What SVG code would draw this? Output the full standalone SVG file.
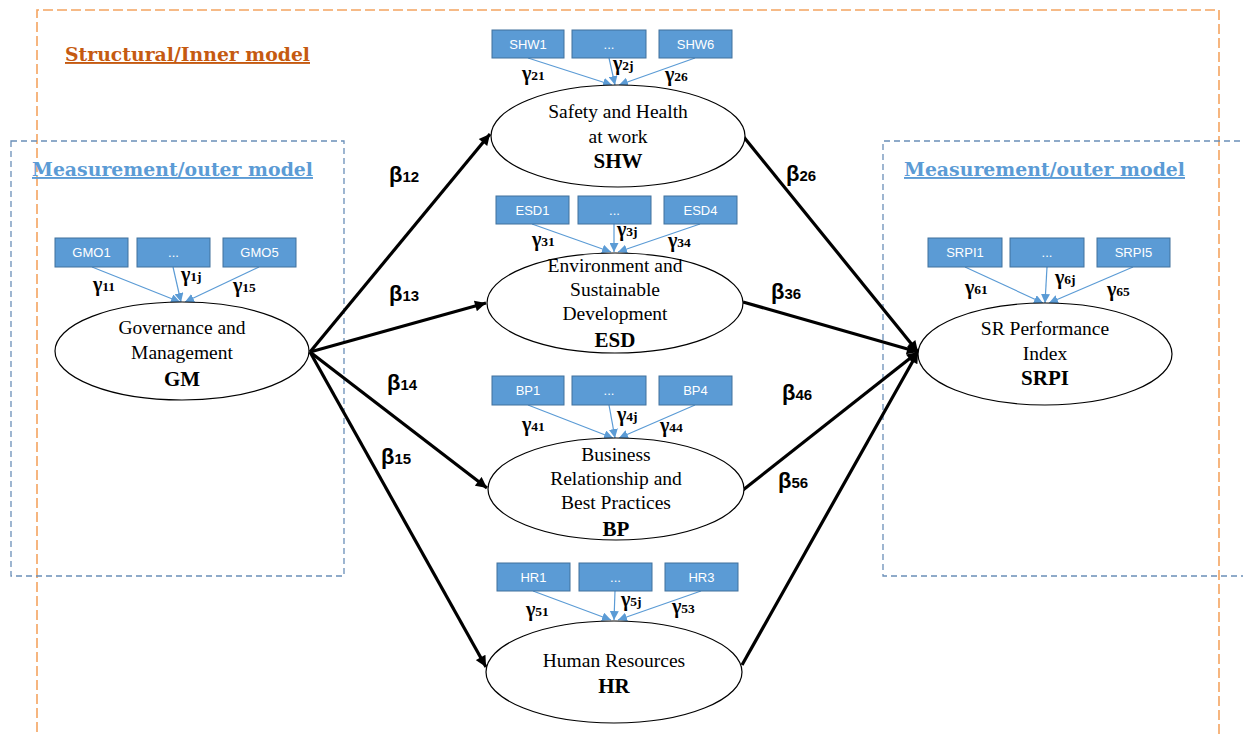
<svg xmlns="http://www.w3.org/2000/svg" width="1243" height="734" viewBox="0 0 1243 734">
<defs>
<style>
.ell{fill:#fff;stroke:#000;stroke-width:1.2}
.box{fill:#5B9BD5;stroke:#41719C;stroke-width:1}
.bt{font-family:"Liberation Sans",Arial,sans-serif;font-size:13px;fill:#fff;text-anchor:middle}
.et{font-family:"Liberation Serif","Times New Roman",serif;font-size:19.5px;fill:#000;text-anchor:middle}
.eb{font-family:"Liberation Serif","Times New Roman",serif;font-size:21px;font-weight:bold;fill:#000;text-anchor:middle}
.g{font-family:"Liberation Serif","Times New Roman",serif;font-size:20px;font-weight:bold;fill:#000}
.gs{font-size:13.5px}
.b{font-family:"Liberation Sans",Arial,sans-serif;font-size:22px;font-weight:bold;fill:#000}
.bs{font-size:15px}
.ind{stroke:#5B9BD5;stroke-width:1.2;marker-end:url(#ab)}
.path{stroke:#000;stroke-width:3.2;marker-end:url(#ak)}
.hdr{font-family:"DejaVu Serif","Liberation Serif",serif;font-weight:bold;font-size:19px;text-decoration:underline}
</style>
<marker id="ab" viewBox="0 0 10 10" refX="10" refY="5" markerWidth="9" markerHeight="9" markerUnits="userSpaceOnUse" orient="auto"><path d="M0,0 L10,5 L0,10 z" fill="#5B9BD5"/></marker>
<marker id="ak" viewBox="0 0 10 10" refX="10" refY="5" markerWidth="13" markerHeight="11" markerUnits="userSpaceOnUse" orient="auto"><path d="M0,0 L10,5 L0,10 z" fill="#000"/></marker>
</defs>
<rect width="1243" height="734" fill="#fff"/>

<g id="frames" fill="none">
<path d="M37,760 L37,10 L1219,10 L1219,760" stroke="#F4A460" stroke-width="1.6" stroke-dasharray="10,4"/>
<rect x="11" y="141" width="333" height="435" stroke="#6A8FB8" stroke-width="1.3" stroke-dasharray="6,4"/>
<path d="M1250,141 L883,141 L883,576 L1250,576" stroke="#6A8FB8" stroke-width="1.3" stroke-dasharray="6,4"/>
</g>
<text class="hdr" x="65" y="61" fill="#C55A11" textLength="245" lengthAdjust="spacingAndGlyphs">Structural/Inner model</text>
<text class="hdr" x="32" y="176" fill="#5B9BD5" textLength="281" lengthAdjust="spacingAndGlyphs">Measurement/outer model</text>
<text class="hdr" x="904" y="176" fill="#5B9BD5" textLength="281" lengthAdjust="spacingAndGlyphs">Measurement/outer model</text>

<g id="connectors">
<line class="path" x1="310" y1="352" x2="490" y2="134"/>
<line class="path" x1="310" y1="352" x2="486" y2="303"/>
<line class="path" x1="310" y1="352" x2="487" y2="488"/>
<line class="path" x1="310" y1="352" x2="486" y2="667"/>
<line class="path" x1="743" y1="136" x2="918" y2="352"/>
<line class="path" x1="743" y1="302" x2="918" y2="352"/>
<line class="path" x1="743" y1="490" x2="918" y2="352"/>
<line class="path" x1="742" y1="665" x2="918" y2="352"/>
<line class="ind" x1="92" y1="267" x2="180" y2="302"/>
<line class="ind" x1="173" y1="267" x2="181" y2="302"/>
<line class="ind" x1="259" y1="267" x2="185" y2="302"/>
<line class="ind" x1="528" y1="58" x2="612" y2="85"/>
<line class="ind" x1="609" y1="58" x2="615" y2="85"/>
<line class="ind" x1="695" y1="58" x2="619" y2="85"/>
<line class="ind" x1="532" y1="224" x2="611" y2="252"/>
<line class="ind" x1="614" y1="224" x2="614" y2="252"/>
<line class="ind" x1="700" y1="224" x2="618" y2="252"/>
<line class="ind" x1="528" y1="405" x2="613" y2="438"/>
<line class="ind" x1="609" y1="405" x2="615" y2="438"/>
<line class="ind" x1="695" y1="405" x2="619" y2="438"/>
<line class="ind" x1="533" y1="591" x2="611" y2="620"/>
<line class="ind" x1="615" y1="591" x2="614" y2="620"/>
<line class="ind" x1="701" y1="591" x2="618" y2="620"/>
<line class="ind" x1="965" y1="267" x2="1043" y2="303"/>
<line class="ind" x1="1047" y1="267" x2="1045" y2="303"/>
<line class="ind" x1="1133" y1="267" x2="1049" y2="303"/>
</g>

<g id="node-GM">
<rect class="box" x="55" y="238" width="73" height="29"/><text class="bt" x="91.5" y="257">GMO1</text>
<rect class="box" x="137" y="238" width="73" height="29"/><text class="bt" x="173.5" y="257">...</text>
<rect class="box" x="223" y="238" width="73" height="29"/><text class="bt" x="259.5" y="257">GMO5</text>
<ellipse class="ell" cx="182" cy="351" rx="127" ry="49"/>
<text class="et" x="182" y="334">Governance and</text>
<text class="et" x="182" y="359">Management</text>
<text class="eb" x="182" y="386">GM</text>
<text class="g" x="93" y="291">γ<tspan class="gs">11</tspan></text>
<text class="g" x="181" y="281">γ<tspan class="gs">1j</tspan></text>
<text class="g" x="233" y="292">γ<tspan class="gs">15</tspan></text>
</g>

<g id="node-SHW">
<rect class="box" x="492" y="30" width="72" height="28"/><text class="bt" x="528" y="48.5">SHW1</text>
<rect class="box" x="572" y="30" width="74" height="28"/><text class="bt" x="609" y="48.5">...</text>
<rect class="box" x="659" y="30" width="73" height="28"/><text class="bt" x="695.5" y="48.5">SHW6</text>
<ellipse class="ell" cx="618" cy="136" rx="127" ry="51"/>
<text class="et" x="618" y="118">Safety and Health</text>
<text class="et" x="618" y="143">at work</text>
<text class="eb" x="618" y="168">SHW</text>
<text class="g" x="522" y="80">γ<tspan class="gs">21</tspan></text>
<text class="g" x="613" y="70">γ<tspan class="gs">2j</tspan></text>
<text class="g" x="665" y="81">γ<tspan class="gs">26</tspan></text>
</g>

<g id="node-ESD">
<rect class="box" x="496" y="196" width="73" height="28"/><text class="bt" x="532.5" y="214.5">ESD1</text>
<rect class="box" x="578" y="196" width="73" height="28"/><text class="bt" x="614.5" y="214.5">...</text>
<rect class="box" x="664" y="196" width="73" height="28"/><text class="bt" x="700.5" y="214.5">ESD4</text>
<ellipse class="ell" cx="615" cy="303" rx="128" ry="50"/>
<text class="et" x="615" y="272">Environment and</text>
<text class="et" x="615" y="296">Sustainable</text>
<text class="et" x="615" y="320">Development</text>
<text class="eb" x="615" y="347">ESD</text>
<text class="g" x="532" y="246">γ<tspan class="gs">31</tspan></text>
<text class="g" x="617" y="236">γ<tspan class="gs">3j</tspan></text>
<text class="g" x="668" y="247">γ<tspan class="gs">34</tspan></text>
</g>

<g id="node-BP">
<rect class="box" x="492" y="376" width="72" height="29"/><text class="bt" x="528" y="395">BP1</text>
<rect class="box" x="572" y="376" width="74" height="29"/><text class="bt" x="609" y="395">...</text>
<rect class="box" x="659" y="376" width="73" height="29"/><text class="bt" x="695.5" y="395">BP4</text>
<ellipse class="ell" cx="616" cy="489" rx="128" ry="51"/>
<text class="et" x="616" y="461">Business</text>
<text class="et" x="616" y="485">Relationship and</text>
<text class="et" x="616" y="509">Best Practices</text>
<text class="eb" x="616" y="536">BP</text>
<text class="g" x="522" y="431">γ<tspan class="gs">41</tspan></text>
<text class="g" x="617" y="421">γ<tspan class="gs">4j</tspan></text>
<text class="g" x="660" y="432">γ<tspan class="gs">44</tspan></text>
</g>

<g id="node-HR">
<rect class="box" x="497" y="563" width="73" height="28"/><text class="bt" x="533.5" y="581.5">HR1</text>
<rect class="box" x="579" y="563" width="73" height="28"/><text class="bt" x="615.5" y="581.5">...</text>
<rect class="box" x="665" y="563" width="73" height="28"/><text class="bt" x="701.5" y="581.5">HR3</text>
<ellipse class="ell" cx="614" cy="672" rx="128" ry="51"/>
<text class="et" x="614" y="667">Human Resources</text>
<text class="eb" x="614" y="693">HR</text>
<text class="g" x="526" y="616">γ<tspan class="gs">51</tspan></text>
<text class="g" x="621" y="606">γ<tspan class="gs">5j</tspan></text>
<text class="g" x="672" y="613">γ<tspan class="gs">53</tspan></text>
</g>

<g id="node-SRPI">
<rect class="box" x="928" y="238" width="74" height="29"/><text class="bt" x="965" y="257">SRPI1</text>
<rect class="box" x="1010" y="238" width="74" height="29"/><text class="bt" x="1047" y="257">...</text>
<rect class="box" x="1097" y="238" width="73" height="29"/><text class="bt" x="1133.5" y="257">SRPI5</text>
<ellipse class="ell" cx="1045" cy="354" rx="127" ry="51"/>
<text class="et" x="1045" y="335">SR Performance</text>
<text class="et" x="1045" y="360">Index</text>
<text class="eb" x="1045" y="385">SRPI</text>
<text class="g" x="965" y="294">γ<tspan class="gs">61</tspan></text>
<text class="g" x="1055" y="284">γ<tspan class="gs">6j</tspan></text>
<text class="g" x="1107" y="296">γ<tspan class="gs">65</tspan></text>
</g>

<g id="path-labels">
<text class="b" x="389" y="182">β<tspan class="bs">12</tspan></text>
<text class="b" x="389" y="301">β<tspan class="bs">13</tspan></text>
<text class="b" x="387" y="390">β<tspan class="bs">14</tspan></text>
<text class="b" x="381" y="464">β<tspan class="bs">15</tspan></text>
<text class="b" x="786" y="181">β<tspan class="bs">26</tspan></text>
<text class="b" x="771" y="299">β<tspan class="bs">36</tspan></text>
<text class="b" x="782" y="400">β<tspan class="bs">46</tspan></text>
<text class="b" x="778" y="488">β<tspan class="bs">56</tspan></text>
</g>
</svg>
